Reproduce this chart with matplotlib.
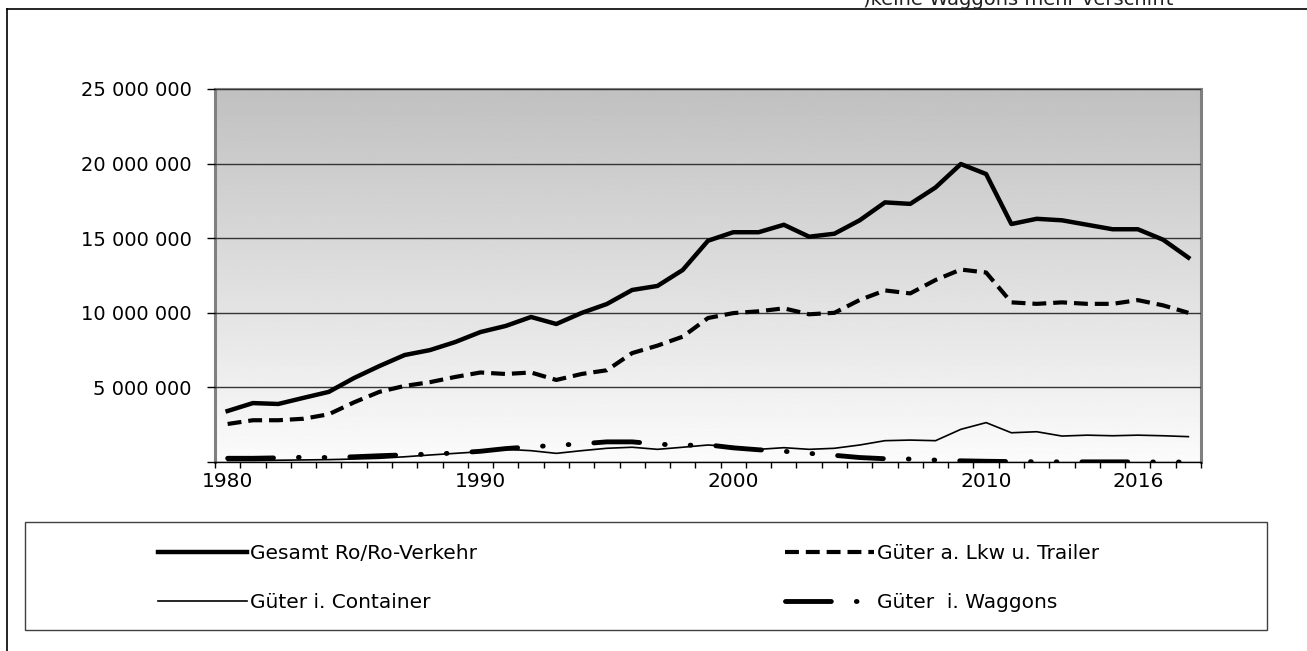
import numpy as np
import matplotlib
matplotlib.use("Agg")
import matplotlib.pyplot as plt
from matplotlib.lines import Line2D
from matplotlib.patches import Rectangle
from matplotlib.ticker import FuncFormatter

plt.rcParams['font.family'] = ['DejaVu Sans']
plt.rcParams['lines.scale_dashes'] = False

years = list(range(1980, 2019))
year_labels = ['1980', '1990', '2000', '2010', '2016']

# values in tonnes
gesamt = [3.42, 3.95, 3.89, 4.3, 4.7, 5.63, 6.43, 7.17, 7.5, 8.04,
          8.71, 9.12, 9.72, 9.25, 9.99, 10.59, 11.53, 11.8, 12.87, 14.83,
          15.4, 15.4, 15.9, 15.1, 15.3, 16.2, 17.4, 17.3, 18.4, 19.97,
          19.3, 15.95, 16.3, 16.2, 15.9, 15.6, 15.6, 14.9, 13.7]
lkw = [2.55, 2.8, 2.8, 2.9, 3.2, 4.0, 4.7, 5.1, 5.35, 5.7,
       6.0, 5.9, 6.0, 5.5, 5.9, 6.15, 7.3, 7.8, 8.4, 9.65,
       9.98, 10.1, 10.3, 9.9, 10.0, 10.86, 11.5, 11.3, 12.2, 12.9,
       12.7, 10.7, 10.6, 10.7, 10.6, 10.6, 10.85, 10.5, 10.0]
container = [0.1, 0.1, 0.12, 0.14, 0.16, 0.2, 0.25, 0.35, 0.47, 0.58,
             0.69, 0.85, 0.76, 0.58, 0.76, 0.92, 0.99, 0.85, 0.99, 1.14,
             1.03, 0.85, 0.96, 0.85, 0.92, 1.14, 1.43, 1.47, 1.43, 2.19,
             2.64, 1.96, 2.03, 1.74, 1.8, 1.76, 1.8, 1.76, 1.7]
waggons = [0.25, 0.25, 0.28, 0.32, 0.3, 0.35, 0.42, 0.48, 0.53, 0.6,
           0.72, 0.9, 1.02, 1.12, 1.22, 1.35, 1.35, 1.2, 1.12, 1.15,
           0.95, 0.82, 0.72, 0.58, 0.45, 0.3, 0.22, 0.2, 0.13, 0.08,
           0.05, 0.03, 0.02, 0.01, 0.01, 0.01, 0.01, 0.0, 0.0]

gesamt = np.array(gesamt) * 1e6
lkw = np.array(lkw) * 1e6
container = np.array(container) * 1e6
waggons = np.array(waggons) * 1e6
x = np.arange(len(years))

fig = plt.figure(figsize=(13.07, 6.51), dpi=100)
ax = fig.add_axes([0.1645, 0.2903, 0.7544, 0.573])

# grey gradient plot area
grad = np.linspace(0.753, 0.985, 256).reshape(-1, 1)
ax.imshow(grad, extent=[0, 1, 0, 1], transform=ax.transAxes, aspect='auto',
          cmap='gray', vmin=0, vmax=1, zorder=0)

l1, = ax.plot(x, gesamt, color='black', lw=3.2, solid_joinstyle='round', zorder=3)
l2, = ax.plot(x, lkw, color='black', lw=3, zorder=3)
l2.set_dashes((10, 5))
l3, = ax.plot(x, container, color='black', lw=1.2, zorder=3)
l4, = ax.plot(x, waggons, color='black', lw=3.5, dash_capstyle='round', zorder=3)
l4.set_dashes((33, 18, 0.5, 18, 0.5, 18))

ax.set_xlim(-0.5, len(years) - 0.5)
ax.set_ylim(0, 25e6)
ax.set_yticks(np.arange(0, 25e6 + 1, 5e6))
ax.yaxis.set_major_formatter(FuncFormatter(
    lambda v, p: '' if v == 0 else f'{int(v):,}'.replace(',', ' ')))
ax.yaxis.grid(True, color='#353535', lw=1)
ax.set_axisbelow(False)
ax.tick_params(axis='y', length=6, width=1, pad=11, labelsize=14, colors='black')

ax.set_xticks([years.index(int(s)) for s in year_labels], year_labels)
ax.set_xticks(np.arange(-0.5, len(years)), minor=True)
ax.tick_params(axis='x', which='major', length=0, pad=7, labelsize=14.5)
ax.tick_params(axis='x', which='minor', length=4, width=1, direction='out')

for s in ['left', 'right']:
    ax.spines[s].set_color('#808080')
    ax.spines[s].set_linewidth(2.2)
ax.spines['top'].set_color('#808080')
ax.spines['top'].set_linewidth(1.5)
ax.spines['bottom'].set_color('black')
ax.spines['bottom'].set_linewidth(1)

# legend in two columns inside a framed box
fig.patches.append(Rectangle((0.0191, 0.0323), 0.9503, 0.1659, transform=fig.transFigure,
                             fill=False, edgecolor='#404040', lw=1))
leg_kw = dict(loc='upper left', frameon=False, fontsize=14.5, handlelength=4.4,
              handletextpad=0.15, labelspacing=1.5, borderpad=0, borderaxespad=0)
fig.legend([l1, l3], ['Gesamt Ro/Ro-Verkehr', 'Güter i. Container'],
           bbox_to_anchor=(0.1209, 0.165), **leg_kw)
fig.legend([l2, l4], ['Güter a. Lkw u. Trailer', 'Güter  i. Waggons'],
           bbox_to_anchor=(0.6006, 0.165), **leg_kw)

# outer frame (top and left edge) and clipped footnote, as in the source
fig.lines.append(Line2D([0.0056, 1.0], [0.9857, 0.9857], transform=fig.transFigure,
                        color='black', lw=1.2))
fig.lines.append(Line2D([0.0056, 0.0056], [0.0, 0.9857], transform=fig.transFigure,
                        color='black', lw=1.2))
fig.text(0.660, 0.9923, ')keine Waggons mehr verschifft', fontsize=14, va='baseline',
         ha='left', color='#202020')

fig.savefig('out.png', dpi=100)
